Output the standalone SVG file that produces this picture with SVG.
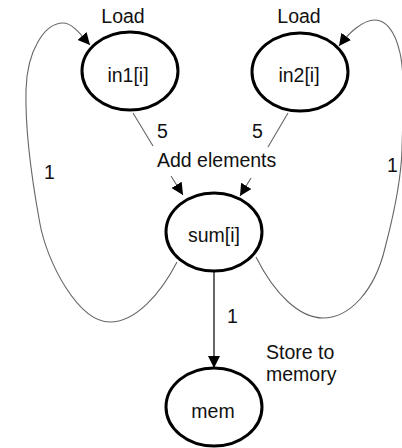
<svg xmlns="http://www.w3.org/2000/svg" width="402" height="448" viewBox="0 0 402 448">
<style>
.node ellipse{fill:#fff;stroke:#000;stroke-width:3}
text{font-family:"Liberation Sans",Arial,sans-serif;font-size:19.5px;fill:#111}
.c{text-anchor:middle}
.thin{fill:none;stroke:#666;stroke-width:1.1}
.blk{fill:none;stroke:#000;stroke-width:1.2}
</style>
<defs>
<marker id="ah" markerWidth="14" markerHeight="14" refX="12" refY="6" orient="auto" markerUnits="userSpaceOnUse">
<path d="M0,0 L12,6 L0,12 Z" fill="#000"/>
</marker>
</defs>
<g id="connectors">
<path class="thin" d="M133,113 L153,146 M171,176 L183,195" marker-end="url(#ah)"/>
<path class="thin" d="M288,113 L268,147 M251,178 L240,196" marker-end="url(#ah)"/>
<path class="blk" d="M214,272 L214,368" marker-end="url(#ah)"/>
<path class="thin" d="M177,262 C160,295 135,322 110,322 C78,322 47,262 40,224 C33,186 25,130 26,90 C27,50 45,23 63,23 C73,23 82,36 90,45" marker-end="url(#ah)"/>
<path class="thin" d="M256,257 C275,295 300,318 323,318 C350,318 375,290 385,248 C395,210 401,180 402,150 C403,110 405,75 400,53 C395,30 385,20 375,20 C362,20 348,34 339,46" marker-end="url(#ah)"/>
</g>
<g id="in1" class="node">
<ellipse cx="130" cy="71" rx="48" ry="39"/>
<text class="c" x="128" y="82">in1[i]</text>
</g>
<g id="in2" class="node">
<ellipse cx="300" cy="72" rx="48" ry="39"/>
<text class="c" x="299" y="82">in2[i]</text>
</g>
<g id="sum" class="node">
<ellipse cx="214" cy="232" rx="48" ry="39"/>
<text class="c" x="214" y="242">sum[i]</text>
</g>
<g id="mem" class="node">
<ellipse cx="214" cy="407" rx="48" ry="39"/>
<text class="c" x="213" y="418">mem</text>
</g>
<g id="labels">
<text class="c" x="123" y="23">Load</text>
<text class="c" x="299" y="23">Load</text>
<text x="157" y="138">5</text>
<text x="252" y="138">5</text>
<text x="157" y="167">Add elements</text>
<text x="227" y="323">1</text>
<text x="44" y="179">1</text>
<text x="387" y="172">1</text>
<text x="266" y="359">Store to</text>
<text x="266" y="381">memory</text>
</g>
</svg>
